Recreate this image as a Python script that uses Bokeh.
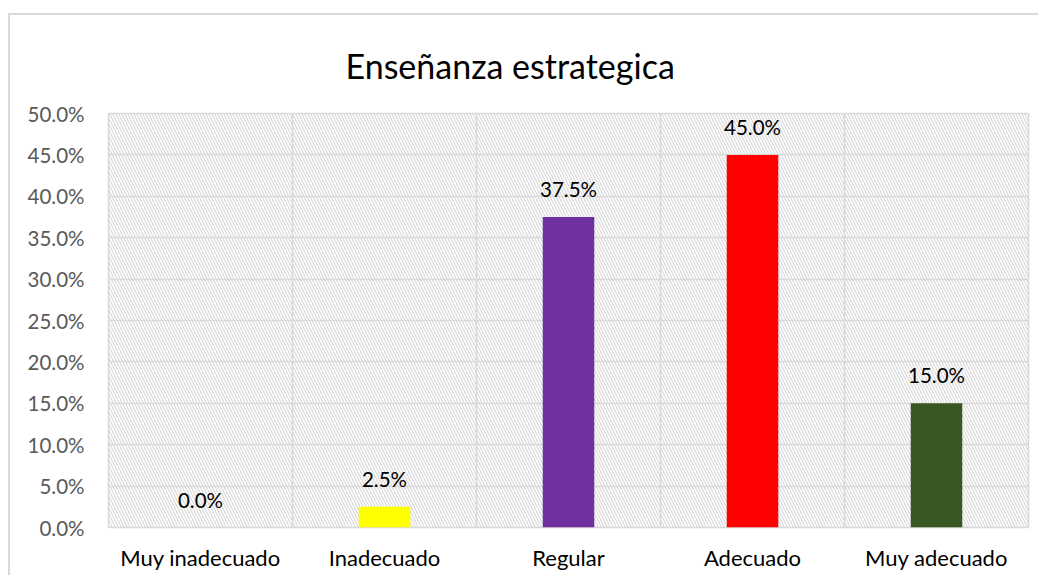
from bokeh.plotting import figure
from bokeh.models import (ColumnDataSource, FixedTicker, NumeralTickFormatter,
                          BoxAnnotation, Range1d)
from bokeh.core.properties import value
from bokeh.embed import file_html
from bokeh.resources import INLINE

# ---- data ----
categories = ["Muy inadecuado", "Inadecuado", "Regular", "Adecuado", "Muy adecuado"]
percentages = [0.0, 0.025, 0.375, 0.45, 0.15]
bar_colors = ["#FFFF00", "#FFFF00", "#7030A0", "#FF0000", "#385723"]
y_ticks = [0.0, 0.05, 0.10, 0.15, 0.20, 0.25, 0.30, 0.35, 0.40, 0.45, 0.50]
title_text = "Enseñanza estrategica"

FONT = "Lato"
GRID = "#D9D9D9"

xs = [i + 0.5 for i in range(len(categories))]
labels = [f"{v * 100:.1f}%" for v in percentages]
source = ColumnDataSource(dict(x=xs, top=percentages, color=bar_colors,
                               label=labels, cat=categories))

p = figure(width=1030, height=562, output_backend="svg", toolbar_location=None,
           x_range=Range1d(0, len(categories)), y_range=Range1d(y_ticks[0], y_ticks[-1]),
           min_border_left=98, min_border_right=12, min_border_top=98,
           min_border_bottom=50)
p.styles = {"border-top": "2px solid #D9D9D9", "border-left": "2px solid #D9D9D9",
            "margin-top": "13px", "margin-left": "8px"}

# title
p.title.text = title_text
p.title.text_font = FONT
p.title.text_font_size = "34px"
p.title.text_font_style = "normal"
p.title.text_color = "#000000"
p.title.align = "left"
p.title.offset = 237
p.title.vertical_align = "top"
p.title.standoff = 52

# hatched background
bg = BoxAnnotation(fill_alpha=0, line_alpha=0, hatch_pattern="\\",
                   hatch_color="#D9D9D9", hatch_scale=6, hatch_weight=1.2,
                   level="image")
p.add_layout(bg)

# bars
p.vbar(x="x", top="top", bottom=0, width=0.28, fill_color="color",
       line_color=None, source=source)

# value labels
p.text(x="x", y="top", text="label", source=source, text_align="center",
       text_baseline="alphabetic", y_offset=-28, text_font=value(FONT),
       text_font_size="20.5px", text_color="#000000")

# frame & grid
p.outline_line_color = GRID
p.outline_line_width = 1.5
p.background_fill_color = "white"
p.border_fill_color = "white"

p.ygrid.ticker = FixedTicker(ticks=y_ticks)
p.ygrid.grid_line_color = GRID
p.ygrid.grid_line_width = 1.5
p.xgrid.ticker = FixedTicker(ticks=list(range(len(categories) + 1)))
p.xgrid.grid_line_color = GRID
p.xgrid.grid_line_width = 1.5

# y axis
p.yaxis.ticker = FixedTicker(ticks=y_ticks)
p.yaxis.formatter = NumeralTickFormatter(format="0.0%")
p.yaxis.axis_line_color = None
p.yaxis.major_tick_line_color = None
p.yaxis.minor_tick_line_color = None
p.yaxis.major_tick_out = 0
p.yaxis.major_tick_in = 0
p.yaxis.major_label_standoff = 24
p.yaxis.major_label_text_font = FONT
p.yaxis.major_label_text_font_size = "20.5px"
p.yaxis.major_label_text_color = "#595959"

# x axis
p.xaxis.ticker = FixedTicker(ticks=xs)
p.xaxis.major_label_overrides = {x: c for x, c in zip(xs, categories)}
p.xaxis.axis_line_color = None
p.xaxis.major_tick_line_color = None
p.xaxis.minor_tick_line_color = None
p.xaxis.major_tick_out = 0
p.xaxis.major_tick_in = 0
p.xaxis.major_label_standoff = 16
p.xaxis.major_label_text_font = FONT
p.xaxis.major_label_text_font_size = "22px"
p.xaxis.major_label_text_color = "#000000"

open("out.html", "w").write(file_html(p, INLINE))
